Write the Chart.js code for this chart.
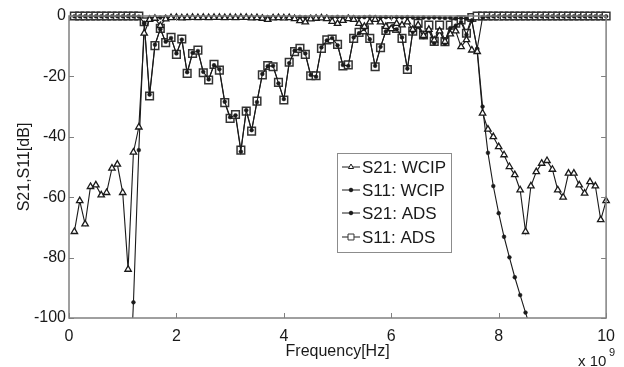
<!DOCTYPE html>
<html>
<head>
<meta charset="utf-8">
<script src="https://cdn.jsdelivr.net/npm/chart.js@4.4.1/dist/chart.umd.min.js"></script>
<style>
  html, body { margin: 0; padding: 0; background: #fff; }
  #wrap { width: 624px; height: 367px; }
</style>
</head>
<body>
<div id="wrap"><canvas id="chart" width="624" height="367"></canvas></div>
<script>
// frequency in GHz (axis shown as x 10^9 Hz)
const freq = [
  0.1, 0.2, 0.3, 0.4, 0.5, 0.6, 0.7, 0.8, 0.9, 1.0,
  1.1, 1.2, 1.3, 1.4, 1.5, 1.6, 1.7, 1.8, 1.9, 2.0,
  2.1, 2.2, 2.3, 2.4, 2.5, 2.6, 2.7, 2.8, 2.9, 3.0,
  3.1, 3.2, 3.3, 3.4, 3.5, 3.6, 3.7, 3.8, 3.9, 4.0,
  4.1, 4.2, 4.3, 4.4, 4.5, 4.6, 4.7, 4.8, 4.9, 5.0,
  5.1, 5.2, 5.3, 5.4, 5.5, 5.6, 5.7, 5.8, 5.9, 6.0,
  6.1, 6.2, 6.3, 6.4, 6.5, 6.6, 6.7, 6.8, 6.9, 7.0,
  7.1, 7.2, 7.3, 7.4, 7.5, 7.6, 7.7, 7.8, 7.9, 8.0,
  8.1, 8.2, 8.3, 8.4, 8.5, 8.6, 8.7, 8.8, 8.9, 9.0,
  9.1, 9.2, 9.3, 9.4, 9.5, 9.6, 9.7, 9.8, 9.9, 10.0
];

const s21Wcip = [
  -71.4, -61.2, -68.9, -56.5, -56.0, -59.3, -58.5, -50.4, -49.1, -58.5,
  -83.9, -45.1, -36.8, -5.7, -1.2, -0.8, -3.2, -1.0, -0.6, -0.5,
  -0.7, -0.6, -0.5, -0.6, -0.5, -0.6, -0.5, -0.5, -0.6, -0.5,
  -0.6, -0.5, -0.5, -0.7, -0.6, -0.8, -1.2, -0.7, -0.6, -0.7,
  -0.6, -0.9, -1.6, -2.0, -1.0, -0.8, -0.7, -0.9, -1.8, -2.5,
  -1.5, -0.9, -1.2, -2.5, -3.5, -2.0, -1.2, -2.0, -3.5, -4.2,
  -2.5, -3.0, -2.0, -4.5, -3.0, -6.5, -4.5, -8.0, -5.0, -8.5,
  -6.0, -5.0, -10.2, -7.9, -11.3, -11.8, -32.2, -37.5, -40.0, -43.3,
  -46.0, -49.9, -52.6, -57.6, -71.4, -56.3, -51.6, -48.8, -47.9, -50.8,
  -57.6, -60.0, -52.1, -52.1, -56.0, -58.7, -54.9, -56.3, -67.5, -61.2
];

const s11Wcip = [
  -0.1, -0.1, -0.1, -0.1, -0.1, -0.1, -0.1, -0.1, -0.1, -0.1,
  -0.1, -0.1, -0.2, -2.2, -26.0, -9.5, -4.4, -8.5, -7.3, -12.4,
  -7.8, -18.6, -12.2, -11.6, -18.5, -21.0, -16.3, -17.6, -28.4, -33.5,
  -32.9, -44.9, -31.2, -37.8, -28.5, -19.2, -16.6, -16.5, -22.3, -27.5,
  -15.6, -11.5, -10.9, -12.4, -19.5, -20.1, -10.4, -8.1, -7.3, -9.7,
  -16.2, -16.5, -7.1, -5.7, -4.3, -7.7, -16.5, -10.2, -5.1, -3.8,
  -4.4, -7.1, -17.4, -5.3, -3.6, -7.0, -4.8, -9.0, -4.6, -9.2,
  -4.0, -3.2, -2.0, -6.2, -1.5, -10.8, -0.4, -0.2, -0.1, -0.1,
  -0.1, -0.1, -0.1, -0.1, -0.1, -0.1, -0.1, -0.1, -0.1, -0.1,
  -0.1, -0.1, -0.1, -0.1, -0.1, -0.1, -0.1, -0.1, -0.1, -0.1
];

// ADS S21 is below the plotted range up to ~1.1 GHz and beyond ~8.6 GHz
const s21Ads = [
  null, null, null, null, null, null, null, null, null, null,
  -135.0, -94.8, -44.4, -2.5, -0.6, -0.4, -0.5, -0.3, -0.4, -0.3,
  -0.4, -0.3, -0.4, -0.3, -0.4, -0.3, -0.3, -0.4, -0.3, -0.4,
  -0.3, -0.4, -0.3, -0.3, -0.4, -0.3, -0.4, -0.3, -0.3, -0.4,
  -0.3, -0.4, -0.3, -0.4, -0.3, -0.3, -0.4, -0.3, -0.4, -0.3,
  -0.4, -0.3, -0.4, -0.5, -0.4, -0.3, -0.4, -0.5, -0.4, -0.5,
  -0.4, -0.5, -0.4, -0.5, -0.6, -0.5, -0.6, -0.5, -0.6, -0.7,
  -0.6, -0.8, -0.7, -0.9, -1.5, -11.0, -30.0, -45.3, -56.3, -65.3,
  -73.1, -79.9, -86.5, -92.4, -98.2, -104.0, null, null, null, null,
  null, null, null, null, null, null, null, null, null, null
];

const s11Ads = [
  0, 0, 0, 0, 0, 0, 0, 0, 0, 0,
  0, 0, 0, -1.9, -26.5, -9.8, -4.1, -8.8, -7.1, -12.7,
  -7.6, -19.0, -12.4, -11.3, -18.8, -21.2, -16.0, -17.9, -28.7, -33.9,
  -32.6, -44.4, -31.5, -38.1, -28.2, -19.5, -16.4, -16.8, -22.0, -27.8,
  -15.3, -11.8, -10.7, -12.7, -19.8, -19.8, -10.7, -7.9, -7.6, -9.4,
  -16.5, -16.2, -7.4, -5.4, -4.6, -7.4, -16.8, -10.5, -4.8, -3.5,
  -4.1, -7.4, -17.7, -5.0, -2.4, -6.3, -3.0, -8.4, -3.0, -8.5,
  -3.0, -2.4, -1.3, -5.7, -0.5, 0, 0, 0, 0, 0,
  0, 0, 0, 0, 0, 0, 0, 0, 0, 0,
  0, 0, 0, 0, 0, 0, 0, 0, 0, 0
];

const seriesLabels = ["S21: WCIP", "S11: WCIP", "S21: ADS", "S11: ADS"];
const xTicks = [0, 2, 4, 6, 8, 10];
const yTicks = [0, -20, -40, -60, -80, -100];

const FONT = "'Liberation Sans', Arial, sans-serif";
const INK = "#1a1a1a";

function toPoints(values) {
  const pts = [];
  values.forEach((v, i) => {
    if (v !== null) pts.push({ x: freq[i], y: v });
  });
  return pts;
}

const markerStyles = [
  { pointStyle: "triangle", radius: 3.7, fill: "#ffffff", border: 1.3 },
  { pointStyle: "circle", radius: 1.9, fill: INK, border: 0.5 },
  { pointStyle: "circle", radius: 1.9, fill: INK, border: 0.5 },
  { pointStyle: "rect", radius: 5.4, fill: "#ffffff", border: 1.5 },
];

const seriesData = [s21Wcip, s11Wcip, s21Ads, s11Ads];

const datasets = seriesData.map((vals, i) => ({
  label: seriesLabels[i],
  data: toPoints(vals),
  showLine: true,
  borderColor: INK,
  borderWidth: 1.1,
  pointStyle: markerStyles[i].pointStyle,
  pointRadius: markerStyles[i].radius,
  pointBackgroundColor: markerStyles[i].fill,
  pointBorderColor: i === 3 ? "#333333" : INK,
  pointBorderWidth: markerStyles[i].border,
  tension: 0,
  clip: i === 2 ? { left: 6, right: 6, top: 8, bottom: 0 } : false,
}));

// MATLAB style box with inward ticks, legend inside the plot, x 10^9 note
const framePlugin = {
  id: "frame",
  afterDraw(chart) {
    const { ctx, chartArea: a, scales } = chart;
    const xs = scales.x, ys = scales.y;
    ctx.save();
    ctx.strokeStyle = "#808080";
    ctx.lineWidth = 1.5;
    ctx.strokeRect(a.left, a.top, a.right - a.left, a.bottom - a.top);
    ctx.lineWidth = 1;
    ctx.beginPath();
    xTicks.forEach(t => {
      const px = Math.round(xs.getPixelForValue(t)) + 0.5;
      ctx.moveTo(px, a.bottom); ctx.lineTo(px, a.bottom - 5);
      ctx.moveTo(px, a.top); ctx.lineTo(px, a.top + 5);
    });
    yTicks.forEach(t => {
      const py = Math.round(ys.getPixelForValue(t)) + 0.5;
      ctx.moveTo(a.left, py); ctx.lineTo(a.left + 5, py);
      ctx.moveTo(a.right, py); ctx.lineTo(a.right - 5, py);
    });
    ctx.stroke();

    // legend
    const bx = 337, by = 153, bw = 114, bh = 99;
    ctx.fillStyle = "#ffffff";
    ctx.fillRect(bx, by, bw, bh);
    ctx.strokeStyle = "#8c8c8c";
    ctx.lineWidth = 1;
    ctx.strokeRect(bx + 0.5, by + 0.5, bw, bh);
    const rows = [167, 190, 213, 237];
    ctx.font = "17px " + FONT;
    ctx.textBaseline = "middle";
    rows.forEach((ry, i) => {
      ctx.strokeStyle = INK;
      ctx.lineWidth = 1;
      ctx.beginPath();
      ctx.moveTo(342, ry); ctx.lineTo(360, ry);
      ctx.stroke();
      const m = markerStyles[i];
      ctx.fillStyle = m.fill;
      ctx.strokeStyle = i === 3 ? "#333333" : INK;
      Chart.helpers.drawPoint(ctx, {
        pointStyle: m.pointStyle,
        radius: i === 3 ? 4.2 : (i === 0 ? 3 : 1.8),
        rotation: 0,
        borderWidth: i === 3 || i === 0 ? 1 : m.border,
      }, 351, ry);
      ctx.fillStyle = INK;
      ctx.fillText(seriesLabels[i], 362, ry + 1);
    });

    // exponent note
    ctx.fillStyle = INK;
    ctx.textBaseline = "alphabetic";
    ctx.font = "15px " + FONT;
    ctx.fillText("x 10", 578, 366);
    ctx.font = "11px " + FONT;
    ctx.fillText("9", 609, 356);
    ctx.restore();
  }
};

new Chart(document.getElementById("chart"), {
  type: "scatter",
  data: { datasets },
  options: {
    responsive: false,
    animation: false,
    layout: { padding: { top: 16, right: 10, left: 0, bottom: 0 } },
    plugins: {
      legend: { display: false },
      tooltip: { enabled: false },
    },
    scales: {
      x: {
        type: "linear",
        min: 0,
        max: 10,
        afterFit(scale) { scale.height = 49; },
        afterBuildTicks(scale) { scale.ticks = xTicks.map(v => ({ value: v })); },
        grid: { display: false, drawTicks: false },
        border: { display: false },
        ticks: {
          color: INK,
          padding: 9,
          maxRotation: 0,
          font: { family: FONT, size: 16 },
          callback: v => String(v),
        },
        title: {
          display: true,
          text: "Frequency[Hz]",
          color: INK,
          font: { family: FONT, size: 16 },
          padding: { top: 0, bottom: 6 },
        },
      },
      y: {
        type: "linear",
        min: -100,
        max: 0,
        afterFit(scale) { scale.width = 69; },
        afterBuildTicks(scale) { scale.ticks = yTicks.map(v => ({ value: v })); },
        grid: { display: false, drawTicks: false },
        border: { display: false },
        ticks: {
          color: INK,
          padding: 3,
          font: { family: FONT, size: 16 },
          callback: v => String(v),
        },
        title: {
          display: true,
          text: "S21,S11[dB]",
          color: INK,
          font: { family: FONT, size: 16 },
          padding: { top: 15, bottom: 0 },
        },
      },
    },
  },
  plugins: [framePlugin],
});
</script>
</body>
</html>
